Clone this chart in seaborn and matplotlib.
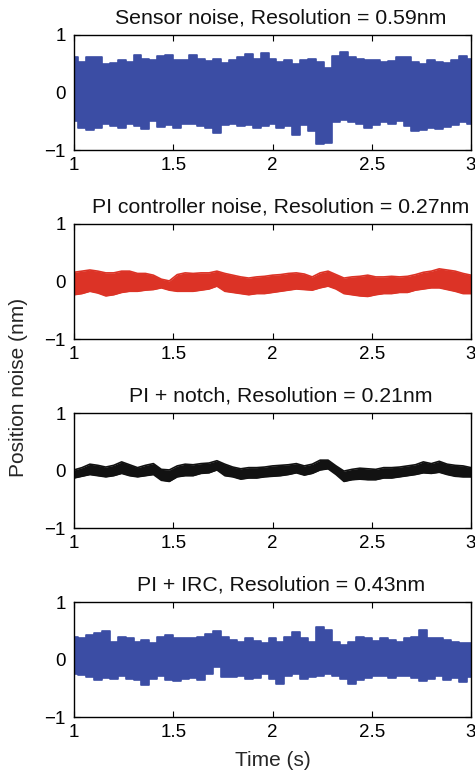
import numpy as np
import pandas as pd
import matplotlib
matplotlib.use("Agg")
import matplotlib.pyplot as plt
import seaborn as sns

# time axis of the envelope readings (s)
time_s = np.linspace(1.0, 3.0, 51)

# upper / lower envelope of each noise trace (nm)
sensor_up = [0.62, 0.53, 0.62, 0.61, 0.50, 0.51, 0.56, 0.53, 0.65, 0.59,
             0.56, 0.63, 0.65, 0.57, 0.56, 0.65, 0.59, 0.55, 0.59, 0.51,
             0.57, 0.62, 0.67, 0.59, 0.68, 0.59, 0.53, 0.57, 0.50, 0.57,
             0.59, 0.53, 0.42, 0.63, 0.71, 0.61, 0.59, 0.57, 0.56, 0.53,
             0.55, 0.62, 0.61, 0.53, 0.50, 0.56, 0.53, 0.51, 0.56, 0.63, 0.59]
sensor_lo = [-0.49, -0.61, -0.65, -0.62, -0.55, -0.58, -0.61, -0.55, -0.58, -0.64,
             -0.50, -0.60, -0.56, -0.61, -0.55, -0.54, -0.58, -0.62, -0.70, -0.56,
             -0.55, -0.58, -0.56, -0.61, -0.58, -0.55, -0.61, -0.58, -0.74, -0.56,
             -0.67, -0.90, -0.87, -0.52, -0.48, -0.52, -0.55, -0.61, -0.56, -0.52,
             -0.55, -0.50, -0.58, -0.67, -0.65, -0.61, -0.64, -0.60, -0.56, -0.52, -0.55]

pi_up = [0.16, 0.18, 0.20, 0.18, 0.15, 0.15, 0.18, 0.18, 0.14, 0.14,
         0.11, 0.04, 0.01, 0.12, 0.15, 0.14, 0.15, 0.15, 0.18, 0.14,
         0.11, 0.08, 0.06, 0.08, 0.09, 0.11, 0.12, 0.14, 0.15, 0.13,
         0.08, 0.15, 0.18, 0.12, 0.06, 0.08, 0.09, 0.11, 0.08, 0.08,
         0.09, 0.08, 0.09, 0.12, 0.16, 0.18, 0.22, 0.20, 0.18, 0.14, 0.11]
pi_lo = [-0.23, -0.21, -0.17, -0.20, -0.25, -0.23, -0.19, -0.17, -0.17, -0.15,
         -0.14, -0.11, -0.15, -0.17, -0.17, -0.17, -0.15, -0.13, -0.08, -0.17,
         -0.19, -0.21, -0.23, -0.21, -0.21, -0.19, -0.17, -0.15, -0.13, -0.14,
         -0.15, -0.11, -0.08, -0.13, -0.21, -0.23, -0.25, -0.26, -0.23, -0.21,
         -0.21, -0.19, -0.19, -0.15, -0.13, -0.11, -0.11, -0.14, -0.17, -0.21, -0.21]

notch_up = [0.01, 0.05, 0.11, 0.09, 0.06, 0.09, 0.15, 0.10, 0.05, 0.09,
            0.12, 0.02, 0.01, 0.08, 0.11, 0.10, 0.12, 0.13, 0.17, 0.11,
            0.06, 0.03, 0.05, 0.05, 0.06, 0.08, 0.09, 0.10, 0.12, 0.08,
            0.11, 0.18, 0.18, 0.08, -0.01, 0.02, 0.04, 0.03, 0.02, 0.05,
            0.05, 0.06, 0.08, 0.10, 0.15, 0.12, 0.16, 0.11, 0.09, 0.08, 0.05]
notch_lo = [-0.13, -0.10, -0.07, -0.09, -0.11, -0.09, -0.05, -0.09, -0.11, -0.09,
            -0.07, -0.17, -0.19, -0.11, -0.09, -0.09, -0.05, -0.04, 0.01, -0.09,
            -0.11, -0.15, -0.13, -0.13, -0.11, -0.10, -0.09, -0.07, -0.04, -0.08,
            -0.05, 0.01, 0.03, -0.07, -0.19, -0.16, -0.15, -0.16, -0.16, -0.13,
            -0.13, -0.11, -0.09, -0.07, -0.04, -0.05, -0.03, -0.07, -0.10, -0.11, -0.11]

irc_up = [0.40, 0.38, 0.43, 0.46, 0.50, 0.31, 0.40, 0.37, 0.31, 0.34,
          0.28, 0.40, 0.42, 0.37, 0.38, 0.37, 0.40, 0.44, 0.49, 0.40,
          0.34, 0.31, 0.37, 0.32, 0.28, 0.37, 0.30, 0.40, 0.47, 0.37,
          0.31, 0.56, 0.51, 0.31, 0.26, 0.31, 0.40, 0.37, 0.32, 0.37,
          0.34, 0.31, 0.37, 0.40, 0.51, 0.38, 0.37, 0.34, 0.31, 0.28, 0.28]
irc_lo = [-0.25, -0.27, -0.30, -0.36, -0.32, -0.33, -0.29, -0.33, -0.36, -0.44,
          -0.33, -0.29, -0.35, -0.38, -0.33, -0.32, -0.35, -0.26, -0.13, -0.30,
          -0.30, -0.29, -0.33, -0.32, -0.26, -0.33, -0.42, -0.29, -0.26, -0.33,
          -0.30, -0.29, -0.26, -0.29, -0.33, -0.42, -0.35, -0.32, -0.29, -0.29,
          -0.32, -0.29, -0.29, -0.32, -0.38, -0.33, -0.29, -0.35, -0.32, -0.39, -0.30]

titles = ["Sensor noise, Resolution = 0.59nm",
          "PI controller noise, Resolution = 0.27nm",
          "PI + notch, Resolution = 0.21nm",
          "PI + IRC, Resolution = 0.43nm"]
colors = ["#3b4da4", "#dc3326", "#121212", "#3b4da4"]
# wide-band traces look spiky, the filtered ones smooth
stepped = [True, False, False, True]
x_ticks = [1, 1.5, 2, 2.5, 3]
x_tick_labels = ["1", "1.5", "2", "2.5", "3"]
y_ticks = [-1, 0, 1]

traces = [(sensor_up, sensor_lo), (pi_up, pi_lo),
          (notch_up, notch_lo), (irc_up, irc_lo)]

sns.set_theme(style="ticks")
plt.rcParams["font.family"] = ["Liberation Sans", "DejaVu Sans"]
plt.rcParams["axes.unicode_minus"] = True

fig = plt.figure(figsize=(4.75, 7.74), dpi=100)
bottoms = [0.8062, 0.5620, 0.3178, 0.0736]

for i, ((up, lo), title, col) in enumerate(zip(traces, titles, colors)):
    ax = fig.add_axes([0.1558, bottoms[i], 0.8358, 0.1486])
    df = pd.DataFrame({"t": np.concatenate([time_s, time_s]),
                       "v": np.concatenate([up, lo]),
                       "edge": ["upper"] * len(time_s) + ["lower"] * len(time_s)})
    if stepped[i]:
        ax.fill_between(time_s, lo, up, step="mid", color=col, lw=0)
        ds = "steps-mid"
    else:
        ax.fill_between(time_s, lo, up, color=col, lw=0)
        ds = "default"
    sns.lineplot(data=df, x="t", y="v", units="edge", estimator=None,
                 color=col, lw=1.2, drawstyle=ds, ax=ax)
    ax.set_xlim(1, 3)
    ax.set_ylim(-1, 1)
    ax.set_xticks(x_ticks)
    ax.set_xticklabels(x_tick_labels)
    ax.set_yticks(y_ticks)
    ax.set_xlabel("")
    ax.set_ylabel("")
    ax.tick_params(direction="in", length=4, width=0.8, top=True, right=True,
                   labelsize=13.5, colors="black")
    ax.tick_params(axis="x", pad=5)
    ax.tick_params(axis="y", pad=6)
    for s in ax.spines.values():
        s.set_visible(True)
        s.set_linewidth(1.0)
        s.set_color("black")
    ax.set_title(title, fontsize=15.3, x=0.521, pad=8, color="#111111")

axes = fig.get_axes()
axes[-1].set_xlabel("Time (s)", fontsize=15, labelpad=7)
fig.text(0.038, 0.5, "Position noise (nm)", rotation=90, ha="center",
         va="center", fontsize=15)

fig.savefig("out.png", dpi=100)
